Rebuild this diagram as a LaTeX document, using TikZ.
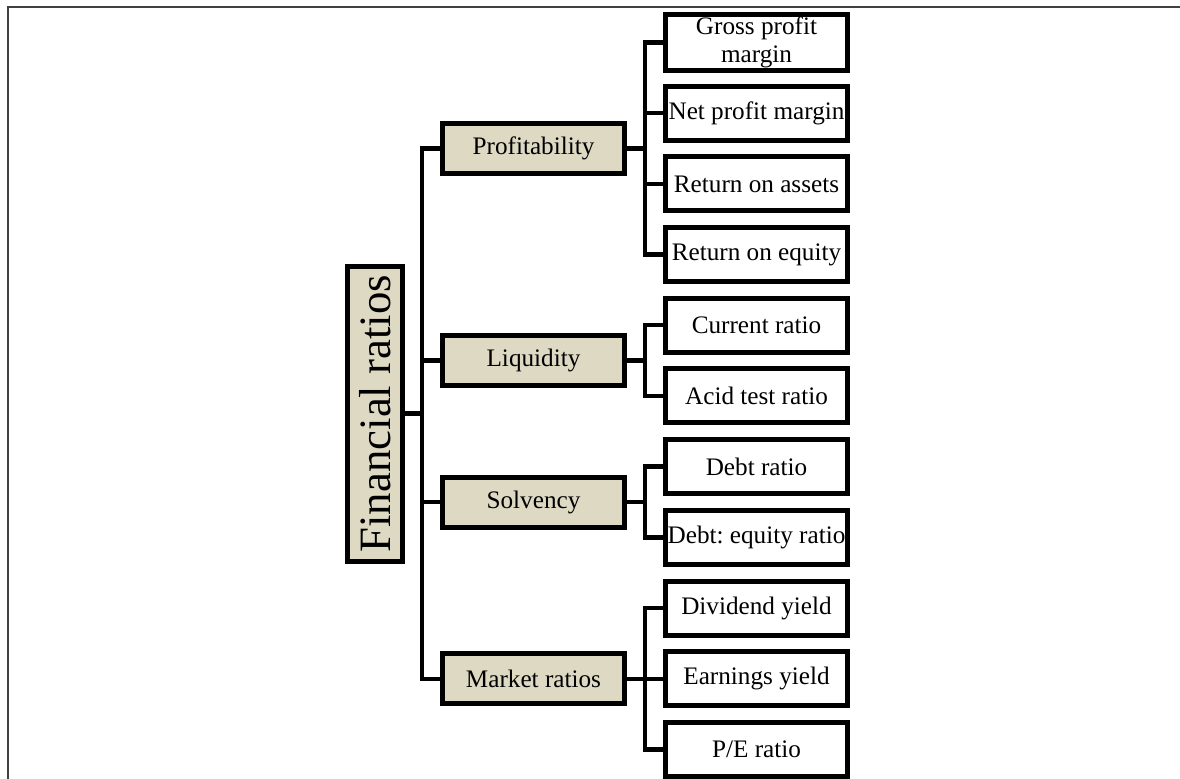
\documentclass[tikz,border=0pt]{standalone}
\usepackage{fontspec}
\setmainfont{Liberation Serif}
\usepackage{tikz}
\usetikzlibrary{calc}

\definecolor{tan}{HTML}{DDD9C3}
\frenchspacing

\begin{document}
\begin{tikzpicture}[x=0.5pt,y=-0.5pt,node distance=35.35pt,
        leaf/.style={draw,line width=2.5pt,fill=white,minimum width=91pt,
          minimum height=27pt,inner sep=1pt,align=center,
          font=\fontsize{12.6}{14.2}\selectfont},
        cat/.style={leaf,fill=tan,minimum height=25pt},
        link/.style={line width=2.2pt},
        frame/.style={line width=1pt,black!75}]
      \useasboundingbox (0,0) rectangle (1180,779);
      \draw[frame] (1180,7) -- (8,7) -- (8,779);
      % ratios
      \node[leaf] (gpm) at (756.5,42.5) {Gross profit\\margin};
      \node[leaf] (npm) [below of=gpm] {Net profit margin};
      \node[leaf] (roa) [below of=npm] {Return on assets};
      \node[leaf] (roe) [below of=roa] {Return on equity};
      \node[leaf] (cur) [below of=roe] {Current ratio};
      \node[leaf] (acid) [below of=cur] {Acid test ratio};
      \node[leaf] (debt) [below of=acid] {Debt ratio};
      \node[leaf] (der) [below of=debt] {Debt: equity ratio};
      \node[leaf] (div) [below of=der] {Dividend yield};
      \node[leaf] (earn) [below of=div] {Earnings yield};
      \node[leaf] (pe) [below of=earn] {P/E ratio};
      % groups
      \node[cat] (prof) at ($(gpm)!0.5!(roe)+(-223,0)$) {Profitability};
      \node[cat] (liq) at ($(cur)!0.5!(acid)+(-223,0)$) {Liquidity};
      \node[cat] (solv) at ($(debt)!0.5!(der)+(-223,0)$) {Solvency};
      \node[cat] (mkt) at ($(earn)+(-223,0)$) {Market ratios};
      \node[cat,rotate=90,minimum width=147.5pt,minimum height=27.5pt,
        font=\fontsize{22.4}{24}\selectfont] (fin)
        at ($(prof)!0.5!(mkt)+(-158.5,0)$) {Financial ratios};
      \foreach \grp/\kids in {prof/{gpm,npm,roa,roe},liq/{cur,acid},
          solv/{debt,der},mkt/{div,earn,pe}}
        \foreach \k in \kids
          \draw[link] (\k.west) -- ++(-18,0) |- (\grp.east);
      \foreach \grp in {prof,liq,solv,mkt}
        \draw[link] (\grp.west) -- ++(-18,0) |- (fin.south);
    \end{tikzpicture}
\end{document}
